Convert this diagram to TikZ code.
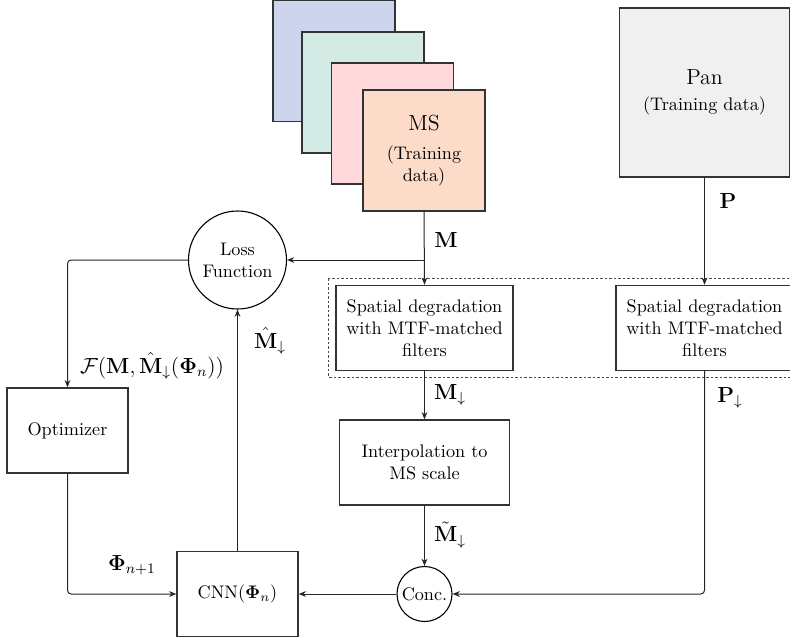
\documentclass[tikz,border=0pt]{standalone}
\usepackage{amsmath,amssymb,bm}
\usetikzlibrary{arrows.meta,calc}
\definecolor{blueC}{HTML}{CDD5EC}
\definecolor{greenC}{HTML}{D4EBE5}
\definecolor{pinkC}{HTML}{FFD9DC}
\definecolor{orangeC}{HTML}{FDDBC9}
\definecolor{panC}{HTML}{F0F0F0}
\definecolor{edgeC}{HTML}{333333}
\newcommand{\pxl}[1]{#1*0.55pt}
\tikzset{
  sqbox/.style={draw=edgeC, line width=0.8pt, minimum width={\pxl{122}}, minimum height={\pxl{121}}, inner sep=0pt, align=center},
  procbox/.style={draw=edgeC, line width=0.8pt, minimum height={\pxl{85}}, inner sep=2pt, align=center, font=\normalsize},
  circbox/.style={draw=black, circle, line width=0.6pt, inner sep=0pt, align=center},
  conn/.style={draw=black!85, line width=0.55pt, -{Stealth[length=4pt,width=3.2pt]}},
  lbl/.style={inner sep=0pt, font=\large}
}
\begin{document}
\begin{tikzpicture}[x=0.55pt,y=-0.55pt]
\clip (0,0) rectangle (790,639);
\useasboundingbox (0,0) rectangle (790,639);
% dotted frame
\draw[black!70, line width=0.45pt, dash pattern=on 1.4pt off 1.1pt] (328,278) rectangle (805,377);
% MS stack
\node[sqbox, fill=blueC] (b1) at (334,61) {};
\node[sqbox, fill=greenC] (b2) at (363,92.5) {};
\node[sqbox, fill=pinkC] (b3) at (392.5,123.5) {};
\node[sqbox, fill=orangeC] (ms) at (424,150.5) {{\large MS}\\[4pt](Training\\data)};
% Pan
\node[sqbox, fill=panC, minimum width={\pxl{170}}, minimum height={\pxl{169}}] (pan) at (704.5,92.5) {{\large Pan}\\[2pt](Training data)};
% spatial degradation boxes
\node[procbox, minimum width={\pxl{177}}] (sl) at (424.5,328) {Spatial degradation\\with MTF-matched\\filters};
\node[procbox, minimum width={\pxl{177}}] (sr) at (704.5,328) {Spatial degradation\\with MTF-matched\\filters};
% interpolation
\node[procbox, minimum width={\pxl{170}}] (interp) at (424.5,462.5) {Interpolation to\\MS scale};
% optimizer, cnn
\node[procbox, minimum width={\pxl{121}}] (opt) at (67.5,430.5) {Optimizer};
\node[procbox, minimum width={\pxl{121}}] (cnn) at (237.5,594) {CNN$(\boldsymbol{\Phi}_n)$};
% circles
\node[circbox, minimum size={\pxl{98}}] (loss) at (237.5,260) {Loss\\Function};
\node[circbox, minimum size={\pxl{55}}] (conc) at (424.5,594) {Conc.};
% connectors
\draw[conn] (ms.south) -- (sl.north);
\draw[conn] (pan.south) -- (sr.north);
\draw[conn] (loss.east -| ms.south) -- (loss.east);
\draw[conn, rounded corners=2pt] (loss.west) -| (opt.north);
\draw[conn, rounded corners=2pt] (opt.south) |- (cnn.west);
\draw[conn] (cnn.north) -- (loss.south);
\draw[conn] (sl.south) -- (interp.north);
\draw[conn] (interp.south) -- (conc.north);
\draw[conn] (conc.west) -- (cnn.east);
\draw[conn, rounded corners=2pt] (sr.south) |- (conc.east);
% labels
\node[lbl] (lM) at (446,240) {$\mathbf{M}$};
\node[lbl] (lP) at (728,201) {$\mathbf{P}$};
\node[lbl] (lMd) at (450,395) {$\mathbf{M}_{\downarrow}$};
\node[lbl] (lPd) at (730,398) {$\mathbf{P}_{\downarrow}$};
\node[lbl] (lMt) at (450,535) {$\tilde{\mathbf{M}}_{\downarrow}$};
\node[lbl] (lMh) at (270,341) {$\hat{\mathbf{M}}_{\downarrow}$};
\node[lbl] (lF) at (152,366) {$\mathcal{F}(\mathbf{M},\hat{\mathbf{M}}_{\downarrow}(\boldsymbol{\Phi}_n))$};
\node[lbl] (lPhi) at (132,565) {$\boldsymbol{\Phi}_{n+1}$};
\end{tikzpicture}
\end{document}
